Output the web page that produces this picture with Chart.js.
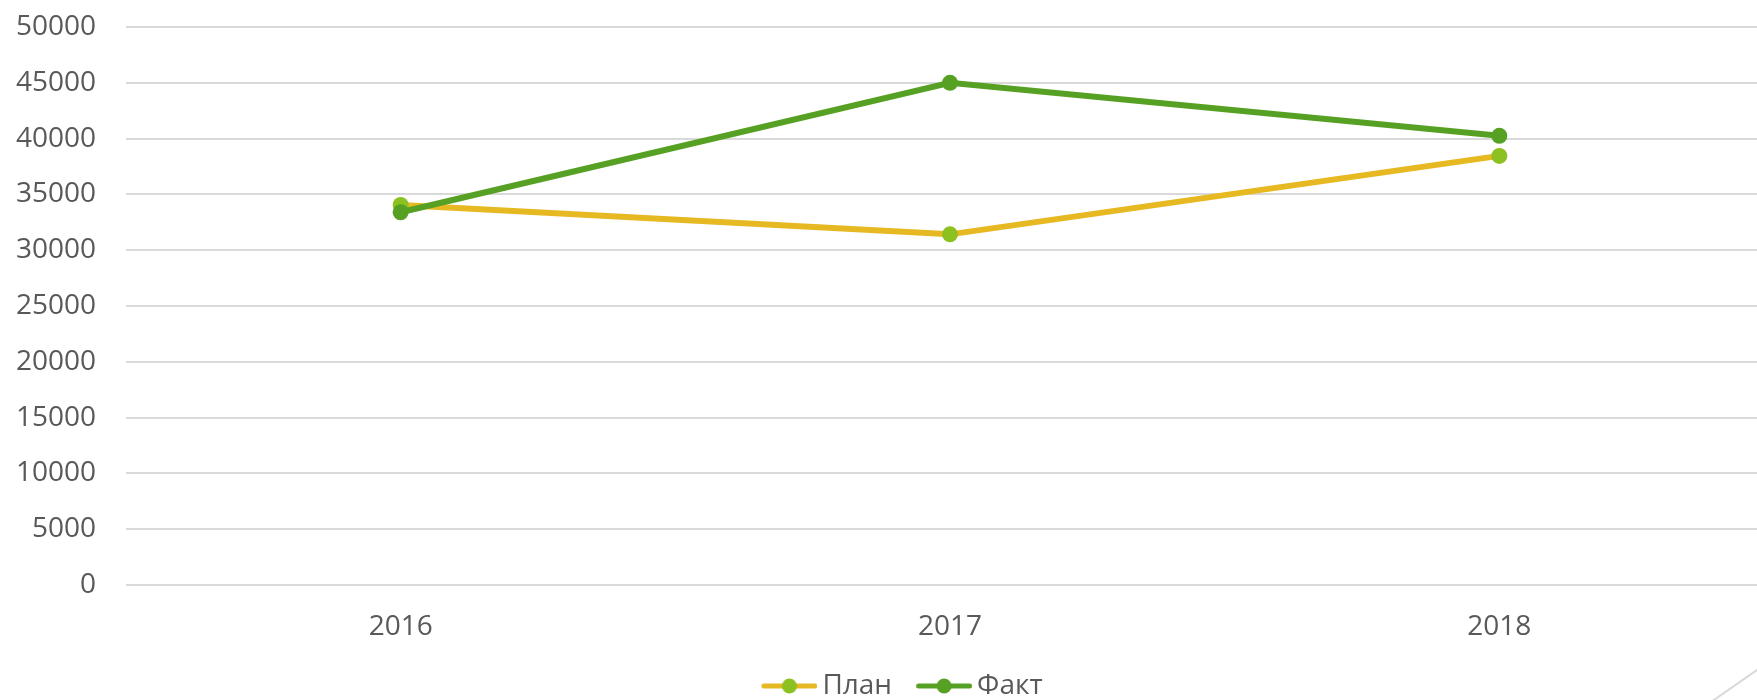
<!DOCTYPE html>
<html>
<head>
<meta charset="utf-8">
<script src="https://cdn.jsdelivr.net/npm/chart.js@4.4.1/dist/chart.umd.min.js"></script>
<style>
  html, body { margin: 0; padding: 0; background: #ffffff; overflow: hidden; }
  #wrap { position: relative; width: 1757px; height: 700px; overflow: hidden; }
  #c { position: absolute; left: 0; top: 0; }
  #deco { position: absolute; left: 0; top: 0; pointer-events: none; }
</style>
</head>
<body>
<div id="wrap">
  <canvas id="c" width="1782" height="700"></canvas>
  <svg id="deco" width="1757" height="700"><line x1="1760" y1="668" x2="1711" y2="702" stroke="#d9d9d9" stroke-width="2"/></svg>
</div>
<script>
// ---- data ----
const categories = ['2016', '2017', '2018'];
const planValues = [34050, 31420, 38450];
const factValues = [33400, 45000, 40250];
const seriesNames = ['План', 'Факт'];
const yTickMin = 0;
const yTickMax = 50000;
const yTickStep = 5000;

// ---- styles ----
const PLAN_LINE = '#E6B922';
const PLAN_MARK = '#8CC121';
const FACT_LINE = '#56A123';
const FACT_MARK = '#56A123';
const TEXT = '#595959';
const GRID = '#D9D9D9';
const FONT = "'Open Sans', 'Noto Sans', sans-serif";

function legendSymbol(lineColor, markColor) {
  const cv = document.createElement('canvas');
  cv.width = 79; cv.height = 18;
  const ctx = cv.getContext('2d');
  ctx.strokeStyle = lineColor;
  ctx.lineWidth = 5;
  ctx.lineCap = 'round';
  ctx.beginPath();
  ctx.moveTo(25.5, 9); ctx.lineTo(76.5, 9);
  ctx.stroke();
  ctx.fillStyle = markColor;
  ctx.beginPath();
  ctx.arc(51, 9, 7.5, 0, Math.PI * 2);
  ctx.fill();
  return cv;
}
const legendImgs = [legendSymbol(PLAN_LINE, PLAN_MARK), legendSymbol(FACT_LINE, FACT_MARK)];

const legendShift = {
  id: 'legendShift',
  afterLayout(chart) {
    const lg = chart.legend;
    if (!lg) return;
    const dx = 4, dy = 10;
    lg.left += dx; lg.right += dx;
    lg.top += dy; lg.bottom += dy;
  }
};

new Chart(document.getElementById('c'), {
  type: 'line',
  data: {
    labels: categories,
    datasets: [
      {
        label: seriesNames[0], data: planValues, order: 2,
        borderColor: PLAN_LINE, backgroundColor: PLAN_MARK,
        pointBackgroundColor: PLAN_MARK, pointBorderColor: PLAN_MARK,
        borderWidth: 6, pointRadius: 8, pointBorderWidth: 0, pointHoverRadius: 8,
        tension: 0, fill: false
      },
      {
        label: seriesNames[1], data: factValues, order: 1,
        borderColor: FACT_LINE, backgroundColor: FACT_MARK,
        pointBackgroundColor: FACT_MARK, pointBorderColor: FACT_MARK,
        borderWidth: 6, pointRadius: 8, pointBorderWidth: 0, pointHoverRadius: 8,
        tension: 0, fill: false
      }
    ]
  },
  options: {
    responsive: false,
    animation: false,
    devicePixelRatio: 1,
    layout: { padding: { top: 27, left: 0, right: 0, bottom: 0 } },
    plugins: {
      tooltip: { enabled: false },
      legend: {
        position: 'bottom',
        labels: {
          usePointStyle: true,
          pointStyleWidth: 61,
          padding: 10,
          color: TEXT,
          font: { family: FONT, size: 28 },
          generateLabels(chart) {
            return chart.data.datasets.map((ds, i) => ({
              text: ds.label,
              datasetIndex: i,
              pointStyle: legendImgs[i],
              fontColor: TEXT,
              fillStyle: ds.borderColor,
              strokeStyle: ds.borderColor,
              lineWidth: 0,
              hidden: false
            }));
          }
        }
      }
    },
    scales: {
      x: {
        offset: true,
        grid: { display: false, drawTicks: false },
        border: { display: false },
        ticks: { color: TEXT, font: { family: FONT, size: 28 }, padding: 25, maxRotation: 0 },
        afterFit(axis) { axis.height = 67; axis.paddingLeft = 0; axis.paddingRight = 0; }
      },
      y: {
        min: yTickMin, max: yTickMax,
        grid: { color: GRID, lineWidth: 2, drawTicks: false },
        border: { display: false },
        ticks: {
          stepSize: yTickStep, color: TEXT, font: { family: FONT, size: 28 }, padding: 30,
          callback: (v) => String(v)
        },
        afterFit(axis) { axis.width = 126; axis.paddingTop = 0; axis.paddingBottom = 0; }
      }
    }
  },
  plugins: [legendShift]
});
</script>
</body>
</html>
